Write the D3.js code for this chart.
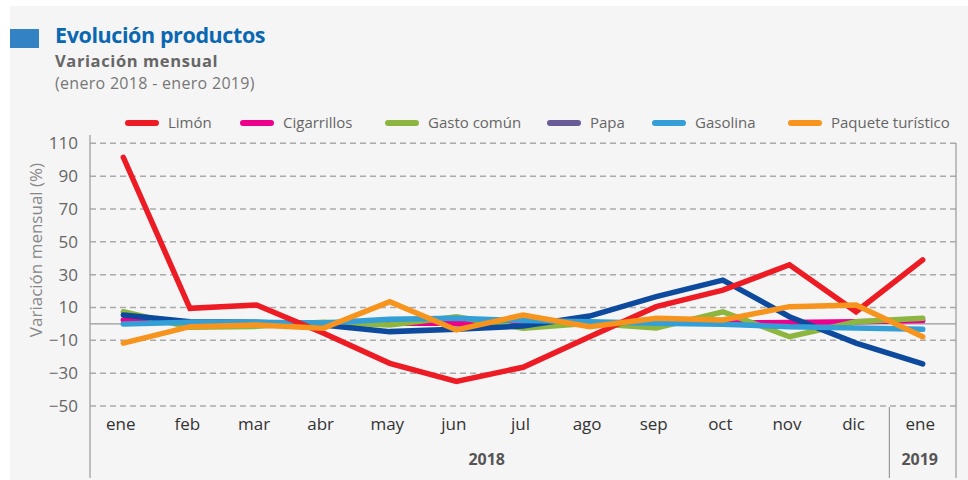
<!DOCTYPE html>
<html>
<head>
<meta charset="utf-8">
<script src="https://cdn.jsdelivr.net/npm/d3@7"></script>
<style>
  body { margin: 0; background: #fff; }
  text { font-family: "Open Sans", "Noto Sans", sans-serif; }
</style>
</head>
<body>
<script>

// months and years on the x axis
var months = ["ene", "feb", "mar", "abr", "may", "jun", "jul", "ago", "sep", "oct", "nov", "dic", "ene"];
var years = [{label: "2018", from: 0, to: 11}, {label: "2019", from: 12, to: 12}];
var yTicks = [110, 90, 70, 50, 30, 10, -10, -30, -50];

// monthly variation (%)
var limon       = [101.5, 9.5, 11.5, -5.5, -24, -35, -26.4, -7.8, 10.5, 20.6, 36, 7.4, 39];
var cigarrillos = [2.4, 0.5, 0.5, 0.5, 0.4, 0.4, 0, 0.5, 0.5, 0.5, 0.8, 1.3, 2];
var gastoComun  = [7.4, -2, -1.5, 1, -0.7, 4.4, -2.7, 0.4, -2.5, 7.4, -7.8, 1.3, 3.4];
var papa        = [5.4, 1.3, 1, -0.7, -4.7, -3.3, -1.3, 4.8, 16.6, 26.7, 4.4, -11.7, -24.4];
var gasolina    = [0, 1, 1, 0.5, 2.8, 3.4, 2, 1.3, 0.4, -0.2, -1.8, -2.5, -3.3];
var paquete     = [-11.7, -1.7, -0.7, -2.7, 13.5, -3.7, 5.4, -1.7, 3.4, 2.4, 10.5, 11.5, -7.8];

// legend order
var series = [
    {name: "Limón", values: limon, color: "#ed1c24", legend: "#ed1c24"},
    {name: "Cigarrillos", values: cigarrillos, color: "#ec008c", legend: "#ec008c"},
    {name: "Gasto común", values: gastoComun, color: "#8cb63f", legend: "#8cb63f"},
    {name: "Papa", values: papa, color: "#0d4a9e", legend: "#695b96"},
    {name: "Gasolina", values: gasolina, color: "#339fd6", legend: "#339fd6"},
    {name: "Paquete turístico", values: paquete, color: "#f7941d", legend: "#f7941d"}
];
// drawing order (last on top)
var drawOrder = ["Cigarrillos", "Gasto común", "Papa", "Gasolina", "Limón", "Paquete turístico"];

const width = 968;
const height = 480;
const marginLeft = 90;
const marginRight = 12;

const svg = d3.create("svg")
    .attr("width", width)
    .attr("height", height)
    .attr("viewBox", [0, 0, width, height]);

// gray panel
svg.append("rect")
    .attr("x", 10).attr("y", 6)
    .attr("width", width - 10).attr("height", height - 6)
    .attr("fill", "#f5f5f5");

// Title block
svg.append("rect")
    .attr("x", 10).attr("y", 29)
    .attr("width", 29).attr("height", 19)
    .attr("fill", "#3382c4");

svg.append("text")
    .attr("x", 55).attr("y", 43)
    .attr("fill", "#0a67b2")
    .attr("font-size", "21.5px")
    .attr("font-weight", "bold")
    .attr("letter-spacing", "-0.4px")
    .text("Evolución productos");

svg.append("text")
    .attr("x", 55).attr("y", 67)
    .attr("fill", "#666")
    .attr("font-size", "16.5px")
    .attr("font-weight", "bold")
    .attr("letter-spacing", "0.6px")
    .text("Variación mensual");

svg.append("text")
    .attr("x", 55).attr("y", 89)
    .attr("fill", "#777")
    .attr("font-size", "16px")
    .attr("letter-spacing", "0.3px")
    .text("(enero 2018 - enero 2019)");

// Scales
const x = d3.scalePoint()
    .domain(d3.range(months.length))
    .range([marginLeft, width - marginRight])
    .padding(0.5);
const step = x.step();

const y = d3.scaleLinear()
    .domain([-50, 110])
    .range([406, 143.3]);

// grid lines
svg.append("g")
    .selectAll("line")
    .data(yTicks)
    .join("line")
    .attr("x1", marginLeft)
    .attr("x2", width - marginRight)
    .attr("y1", d => y(d))
    .attr("y2", d => y(d))
    .attr("stroke", "#aaa")
    .attr("stroke-width", 1.5)
    .attr("stroke-dasharray", "6,4");

// zero line
svg.append("line")
    .attr("x1", marginLeft).attr("x2", width - marginRight)
    .attr("y1", y(0)).attr("y2", y(0))
    .attr("stroke", "#999")
    .attr("stroke-width", 1.2);

// y axis (labels only)
svg.append("g")
    .attr("transform", `translate(${marginLeft},0)`)
    .call(d3.axisLeft(y).tickValues(yTicks).tickSize(0).tickPadding(12))
    .call(g => g.select(".domain").remove())
    .call(g => g.selectAll("text")
        .attr("font-family", "'Open Sans', sans-serif")
        .attr("font-size", "17px")
        .attr("fill", "#666"));

// frame lines
svg.append("line")
    .attr("x1", marginLeft).attr("x2", marginLeft)
    .attr("y1", 135).attr("y2", height - 2)
    .attr("stroke", "#999").attr("stroke-width", 1.2);
svg.append("line")
    .attr("x1", width - marginRight).attr("x2", width - marginRight)
    .attr("y1", 143).attr("y2", height - 2)
    .attr("stroke", "#999").attr("stroke-width", 1.2);
svg.append("line")
    .attr("x1", x(12) - step / 2).attr("x2", x(12) - step / 2)
    .attr("y1", 407).attr("y2", height - 2)
    .attr("stroke", "#999").attr("stroke-width", 1.2);

// y axis title
svg.append("text")
    .attr("transform", `translate(42,${250}) rotate(-90)`)
    .attr("text-anchor", "middle")
    .attr("fill", "#888")
    .attr("font-size", "17px")
    .text("Variación mensual (%)");

// x axis labels
svg.append("g")
    .attr("transform", "translate(-3,430)")
    .call(d3.axisBottom(x).tickSize(0).tickPadding(0).tickFormat(i => months[i]))
    .call(g => g.select(".domain").remove())
    .call(g => g.selectAll("text")
        .attr("dy", 0)
        .attr("font-family", "'Open Sans', sans-serif")
        .attr("font-size", "17px")
        .attr("fill", "#333"));

svg.append("g")
    .selectAll("text")
    .data(years)
    .join("text")
    .attr("x", d => (x(d.from) + x(d.to)) / 2 - 3)
    .attr("y", 465)
    .attr("text-anchor", "middle")
    .attr("font-size", "16px")
    .attr("font-weight", "bold")
    .attr("fill", "#555")
    .text(d => d.label);

// lines
const line = d3.line()
    .x((d, i) => x(i))
    .y(d => y(d));

drawOrder.forEach(function(name){
    var s = series.find(d => d.name == name);
    svg.append("path")
        .attr("fill", "none")
        .attr("stroke", s.color)
        .attr("stroke-width", 5.5)
        .attr("stroke-linecap", "round")
        .attr("stroke-linejoin", "miter")
        .attr("d", line(s.values));
});

// legend
var legendX = [125, 240, 385, 547, 652, 788];
var legend = svg.append("g");
series.forEach(function(s, i){
    var g = legend.append("g").attr("transform", `translate(${legendX[i]},123)`);
    g.append("line")
        .attr("x1", 3).attr("x2", 31)
        .attr("stroke", s.legend)
        .attr("stroke-width", 6)
        .attr("stroke-linecap", "round");
    g.append("text")
        .attr("x", 43)
        .attr("y", 5)
        .attr("fill", "#666")
        .attr("font-size", "15px")
        .text(s.name);
});

document.body.appendChild(svg.node());

</script>
</body>
</html>
